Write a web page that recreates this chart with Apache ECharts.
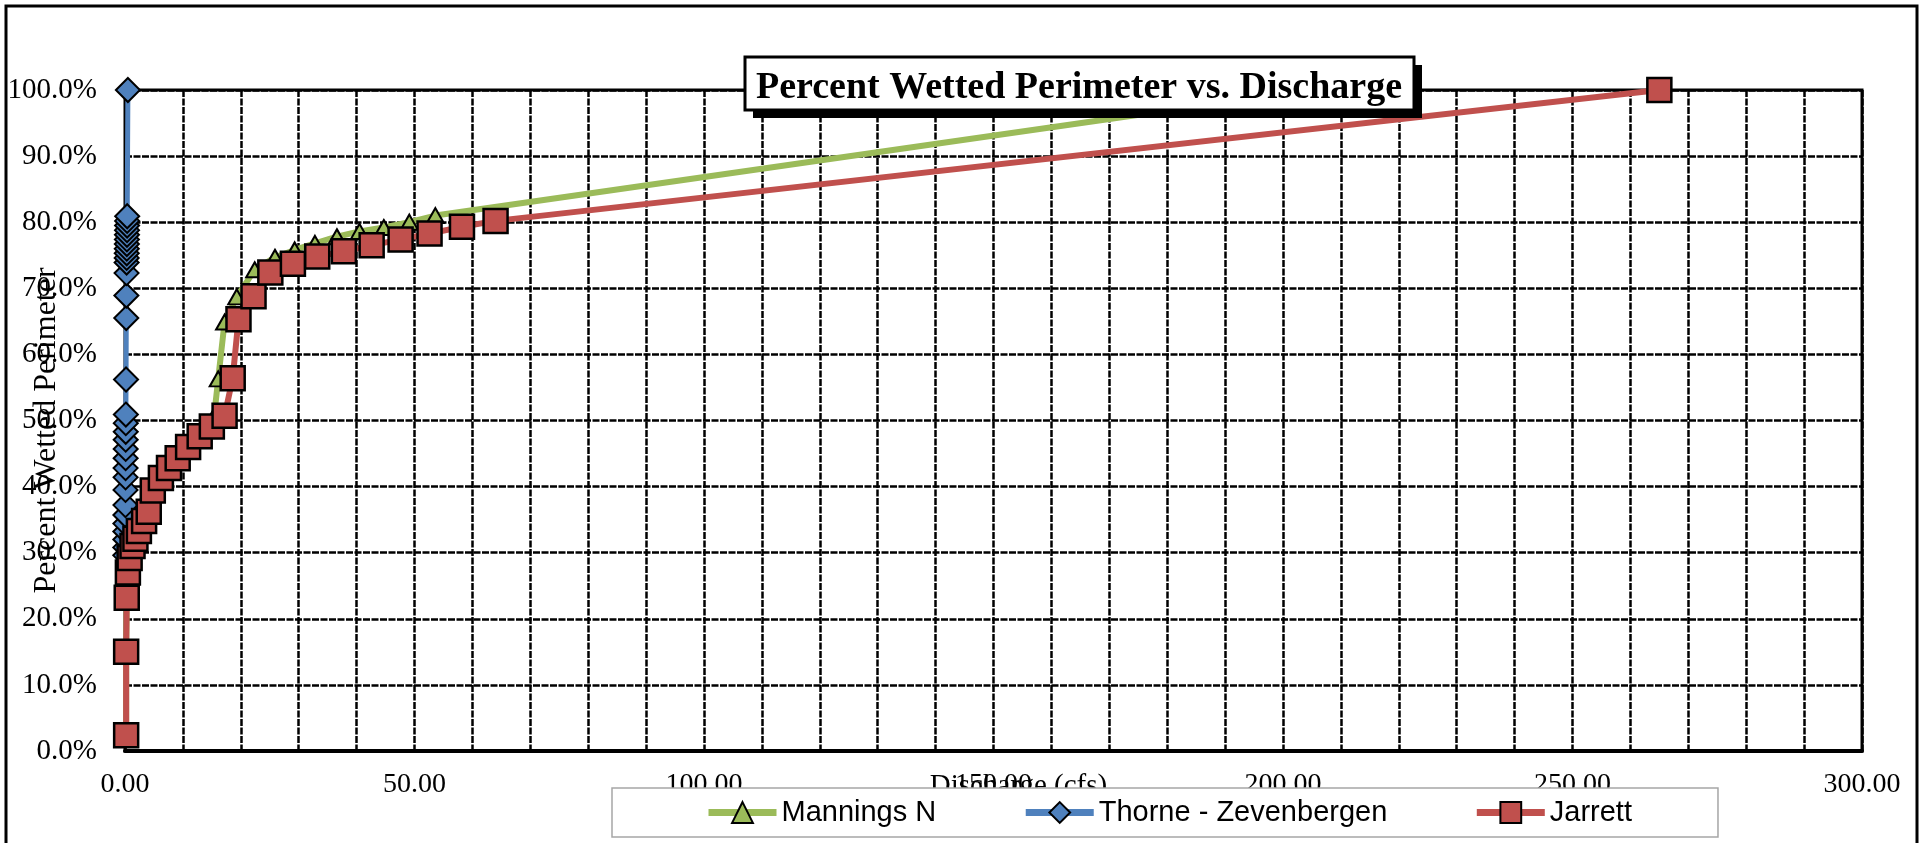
<!DOCTYPE html>
<html>
<head>
<meta charset="utf-8">
<title>Percent Wetted Perimeter vs. Discharge</title>
<script src="https://cdn.jsdelivr.net/npm/echarts@6.0.0/dist/echarts.min.js"></script>
<style>
* { margin: 0; padding: 0; }
html, body { width: 1925px; height: 843px; background: #fff; overflow: hidden; }
#main { width: 1925px; height: 843px; }
</style>
</head>
<body>
<div id="main"></div>
<script>
// discharge (cfs) and percent wetted perimeter
var manningsQ = [0.2, 0.2, 0.3, 0.4, 0.7, 1.1, 1.6, 2.1, 2.9, 3.7, 4.3, 5.6, 6.9, 8.3, 9.9, 11.8, 13.6, 15.4, 16.1, 17.2, 19.3, 22.4, 25.9, 29.3, 32.8, 36.6, 40.5, 44.7, 49.1, 53.6, 205];
var manningsP = [2.4, 15.0, 23.2, 27.0, 29.2, 31.0, 32.1, 33.3, 34.8, 36.2, 39.4, 41.3, 42.8, 44.3, 46.0, 47.6, 49.1, 50.7, 56.3, 64.9, 68.7, 72.8, 74.7, 75.8, 76.8, 77.8, 78.6, 79.2, 80.0, 81.0, 100];

var thorneQ = [0.05, 0.05, 0.06, 0.06, 0.07, 0.07, 0.08, 0.09, 0.1, 0.1, 0.11, 0.12, 0.12, 0.13, 0.14, 0.15, 0.18, 0.22, 0.24, 0.27, 0.28, 0.29, 0.3, 0.31, 0.32, 0.33, 0.34, 0.35, 0.36, 0.37, 0.38, 0.5];
var thorneP = [29.6, 30.8, 32.0, 33.2, 34.4, 35.7, 37.2, 39.5, 41.4, 42.8, 44.3, 45.7, 47.1, 48.3, 49.6, 50.9, 56.2, 65.5, 68.9, 72.3, 73.9, 74.6, 75.3, 76.0, 76.7, 77.4, 78.1, 78.8, 79.5, 80.2, 80.9, 100];

var jarrettQ = [0.2, 0.2, 0.3, 0.5, 0.8, 1.3, 1.8, 2.4, 3.3, 4.1, 4.8, 6.2, 7.6, 9.1, 10.9, 12.9, 15.0, 17.2, 18.6, 19.6, 22.2, 25.1, 29.0, 33.2, 37.8, 42.6, 47.6, 52.6, 58.2, 64.0, 265];
var jarrettP = [2.4, 15.0, 23.2, 27.0, 29.2, 31.0, 32.1, 33.3, 34.8, 36.2, 39.4, 41.3, 42.8, 44.3, 46.0, 47.6, 49.1, 50.7, 56.4, 65.3, 68.8, 72.4, 73.7, 74.8, 75.6, 76.5, 77.4, 78.3, 79.3, 80.2, 100];

var seriesNames = ["Mannings N", "Thorne - Zevenbergen", "Jarrett"];
var chartTitle = "Percent Wetted Perimeter vs. Discharge";

function pairs(q, p) {
  return q.map(function (v, i) { return [v, p[i]]; });
}

var serif = "Liberation Serif";
var gridLine = { color: "#000", width: 2.5, type: [7, 1.5] };

var chart = echarts.init(document.getElementById("main"));
chart.setOption({
  animation: false,
  backgroundColor: "#fff",
  grid: {
    left: 125, right: 63, top: 90, bottom: 92,
    outerBoundsMode: "none",
    show: true, borderColor: "#000", borderWidth: 3
  },
  xAxis: {
    type: "value", min: 0, max: 300, interval: 10,
    name: "Discharge (cfs)", nameLocation: "middle", nameGap: 21, nameMoveOverlap: false,
    nameTextStyle: { fontFamily: serif, fontSize: 29, color: "#000", padding: [0, 0, 0, 50] },
    axisLine: { show: true, onZero: false, lineStyle: { color: "#000", width: 4 } },
    axisTick: { show: false },
    axisLabel: {
      margin: 20, fontFamily: serif, fontSize: 28, color: "#000",
      formatter: function (v) { return v % 50 === 0 ? v.toFixed(2) : ""; }
    },
    splitLine: { show: true, lineStyle: gridLine }
  },
  yAxis: {
    type: "value", min: 0, max: 100, interval: 10,
    name: "Percent Wetted Perimeter", nameLocation: "middle", nameGap: 62, nameRotate: 90,
    nameMoveOverlap: false,
    nameTextStyle: { fontFamily: serif, fontSize: 32, color: "#000", padding: [0, 20, 0, 0] },
    axisLine: { show: true, lineStyle: { color: "#000", width: 2 } },
    axisTick: { show: false },
    axisLabel: {
      margin: 28, fontFamily: serif, fontSize: 29, color: "#000",
      formatter: function (v) { return v.toFixed(1) + "%"; }
    },
    splitLine: { show: true, lineStyle: gridLine }
  },
  legend: {
    data: seriesNames,
    left: 612, top: 788,
    padding: [10, 86, 10, 93],
    itemGap: 86, itemWidth: 68, itemHeight: 26,
    selectedMode: false,
    backgroundColor: "#fff", borderColor: "#a6a6a6", borderWidth: 1.5,
    lineStyle: { width: 7 },
    textStyle: { fontFamily: "Liberation Sans", fontSize: 29, color: "#000" }
  },
  graphic: [
    { type: "rect", z: 100, shape: { x: 6, y: 6, width: 1911, height: 850 },
      style: { fill: "none", stroke: "#000", lineWidth: 3 } },
    { type: "rect", z: 100, shape: { x: 753, y: 65, width: 669, height: 53 },
      style: { fill: "#000" } },
    { type: "rect", z: 101, shape: { x: 745, y: 57, width: 669, height: 53 },
      style: { fill: "#fff", stroke: "#000", lineWidth: 3 } },
    { type: "text", z: 102, x: 1079, y: 88,
      style: { text: chartTitle, fill: "#000", font: "bold 38px 'Liberation Serif'", align: "center", verticalAlign: "middle" } }
  ],
  series: [
    {
      name: seriesNames[0], type: "line", data: pairs(manningsQ, manningsP),
      symbol: "triangle", symbolSize: [17, 15], showAllSymbol: true,
      itemStyle: { color: "#9BBB59", borderColor: "#000", borderWidth: 2 },
      lineStyle: { color: "#9BBB59", width: 6 }
    },
    {
      name: seriesNames[1], type: "line", data: pairs(thorneQ, thorneP),
      symbol: "diamond", symbolSize: 24, showAllSymbol: true,
      itemStyle: { color: "#4F81BD", borderColor: "#000", borderWidth: 2 },
      lineStyle: { color: "#4F81BD", width: 5 }
    },
    {
      name: seriesNames[2], type: "line", data: pairs(jarrettQ, jarrettP),
      symbol: "rect", symbolSize: 24, showAllSymbol: true,
      itemStyle: { color: "#C0504D", borderColor: "#000", borderWidth: 2.5 },
      lineStyle: { color: "#C0504D", width: 6 }
    }
  ]
});
</script>
</body>
</html>
